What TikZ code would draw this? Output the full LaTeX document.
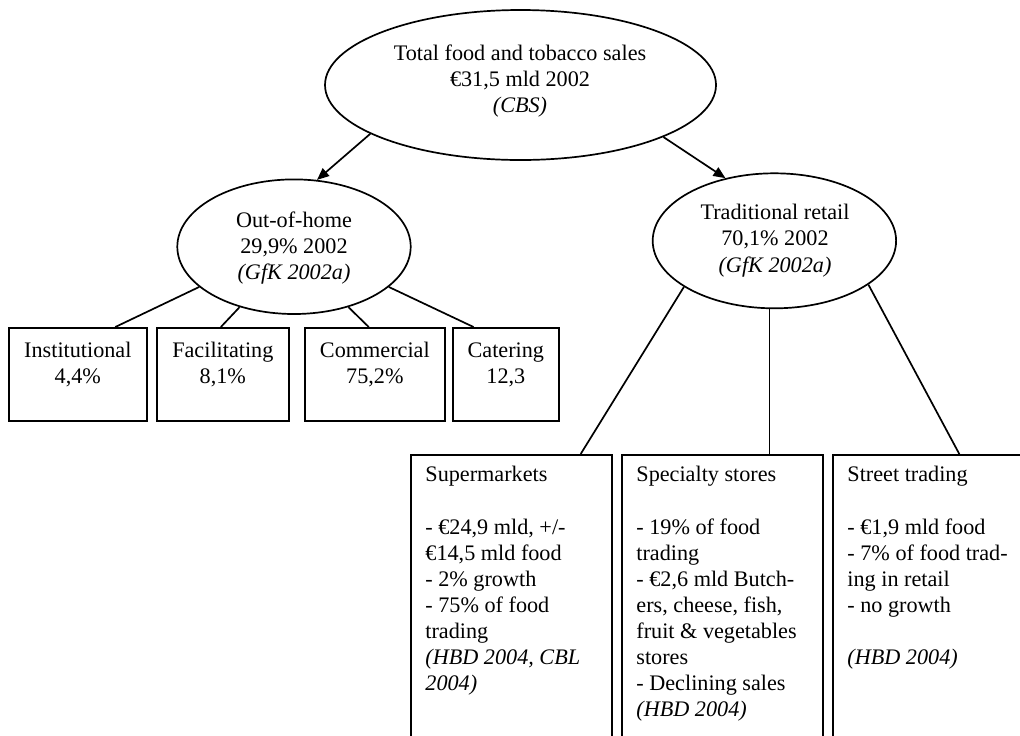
\documentclass[tikz,border=0pt]{standalone}
\usepackage{fontspec}
\setmainfont{Liberation Serif}
\usetikzlibrary{arrows.meta,calc,shapes.geometric}
\begin{document}
\begin{tikzpicture}[x=0.5pt,y=-0.5pt,
  every node/.style={font=\fontsize{11.1}{13.05}\selectfont, inner sep=0pt},
  ell/.style={draw, ellipse, line width=0.85pt},
  box/.style={draw, rectangle, line width=0.85pt, anchor=north west},
  lbl/.style={align=center, anchor=north},
  ltxt/.style={align=left, anchor=north west},
  conn/.style={line width=0.85pt},
  arr/.style={conn, -{Triangle[length=6pt,width=5pt]}}]
\useasboundingbox (0,0) rectangle (1020,735);
\clip (0,0) rectangle (1020,735);

% ellipses
\node[ell, minimum width=195.5pt, minimum height=75pt] (top) at (520.5,85) {};
\node[lbl] (toptxt) at (520,44) {Total food and tobacco sales\\€31,5 mld 2002\\\textit{(CBS)}};

\node[ell, minimum width=116.7pt, minimum height=67.3pt] (ooh) at (294,246.7) {};
\node[lbl] (oohtxt) at (294,211) {Out-of-home\\29,9\% 2002\\\textit{(GfK 2002a)}};

\node[ell, minimum width=121.7pt, minimum height=67.5pt] (trad) at (774.4,240.8) {};
\node[lbl] (tradtxt) at (775,204) {Traditional retail\\70,1\% 2002\\\textit{(GfK 2002a)}};

% small boxes
\node[box, minimum width=69pt, minimum height=46.5pt] (inst) at (8,327) {};
\node[box, minimum width=66pt, minimum height=46.5pt] (fac) at (156,327) {};
\node[box, minimum width=70pt, minimum height=46.5pt] (com) at (304,327) {};
\node[box, minimum width=53pt, minimum height=46.5pt] (cat) at (452,327) {};
\node[lbl] (insttxt) at ($(inst.north)+(0,15)$) {Institutional\\4,4\%};
\node[lbl] (factxt) at ($(fac.north)+(0,15)$) {Facilitating\\8,1\%};
\node[lbl] (comtxt) at ($(com.north)+(0,15)$) {Commercial\\75,2\%};
\node[lbl] (cattxt) at ($(cat.north)+(0,15)$) {Catering\\12,3};

% big boxes
\node[box, minimum width=100.5pt, minimum height=153pt] (sup) at (410,454) {};
\node[box, minimum width=100.5pt, minimum height=153pt] (spec) at (621,454) {};
\node[box, minimum width=100.5pt, minimum height=153pt] (street) at (832,454) {};
\node[ltxt] (suptxt) at ($(sup.north west)+(15,12)$) {Supermarkets\\[13.05pt]- €24,9 mld, +/-\\€14,5 mld food\\- 2\% growth\\- 75\% of food\\trading\\\textit{(HBD 2004, CBL}\\\textit{2004)}};
\node[ltxt] (spectxt) at ($(spec.north west)+(15,12)$) {Specialty stores\\[13.05pt]- 19\% of food\\trading\\- €2,6 mld Butch-\\ers, cheese, fish,\\fruit \& vegetables\\stores\\- Declining sales\\\textit{(HBD 2004)}};
\node[ltxt] (streettxt) at ($(street.north west)+(15,12)$) {Street trading\\[13.05pt]- €1,9 mld food\\- 7\% of food trad-\\ing in retail\\- no growth\\[13.05pt]\textit{(HBD 2004)}};

% connectors
\draw[arr] (top.198) -- (ooh.71);
\draw[arr] (top.340) -- (trad.128);
\draw[conn] (ooh.203) -- ($(inst.north west)!0.768!(inst.north east)$);
\draw[conn] (ooh.228) -- ($(fac.north west)!0.485!(fac.north east)$);
\draw[conn] (ooh.312) -- ($(com.north west)!0.457!(com.north east)$);
\draw[conn] (ooh.337) -- ($(cat.north west)!0.2!(cat.north east)$);
\draw[conn] (trad.207) -- ($(sup.north west)!0.842!(sup.north east)$);
\draw[conn] (trad.266) -- (trad.266 |- spec.north);
\draw[conn] (trad.335.5) -- ($(street.north west)!0.628!(street.north east)$);
\end{tikzpicture}
\end{document}
